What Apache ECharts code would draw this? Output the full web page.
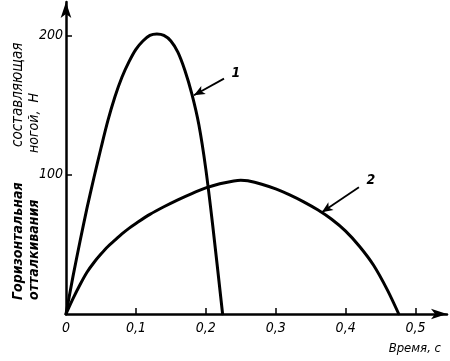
<!DOCTYPE html>
<html><head><meta charset="utf-8">
<script src="https://cdn.jsdelivr.net/npm/echarts@6/dist/echarts.min.js"></script>
<style>html,body{margin:0;padding:0;background:#fff}#c{width:450px;height:361px}</style>
</head><body><div id="c"></div>
<script>
const xTicks = [0, 0.1, 0.2, 0.3, 0.4, 0.5];
const yTicks = [100, 200];
const curve1T = [0, 0.01, 0.02, 0.03, 0.04, 0.05, 0.06, 0.07, 0.08, 0.09, 0.10, 0.11, 0.12, 0.13, 0.14, 0.15, 0.16, 0.17, 0.18, 0.19, 0.20, 0.21, 0.224];
const curve1V = [0, 27, 52, 76, 98, 119, 139, 156, 170, 181, 190, 196, 200, 201, 200, 196, 188, 175, 158, 136, 104, 63, 0];
const curve2T = [0, 0.01, 0.02, 0.03, 0.04, 0.05, 0.06, 0.07, 0.08, 0.09, 0.10, 0.12, 0.14, 0.16, 0.18, 0.20, 0.22, 0.24, 0.25, 0.26, 0.28, 0.30, 0.32, 0.34, 0.36, 0.38, 0.40, 0.42, 0.44, 0.46, 0.476];
const curve2V = [0, 11, 21, 30, 37, 43, 48.5, 53, 57.5, 61.5, 65, 71.5, 77, 82, 86.5, 90.5, 93.5, 95.5, 96, 95.6, 93.2, 89.8, 85.5, 80.5, 74.8, 68, 59.5, 48.5, 35, 17, 0];
const seriesNames = ['1', '2'];
const arrow1 = [[0.226, 169], [0.183, 157]];
const label1 = [0.243, 173];
const arrow2 = [[0.419, 91], [0.366, 73]];
const label2 = [0.436, 96];

const FONT = "'DejaVu Sans Condensed', 'DejaVu Sans', sans-serif";
const fmt = v => String(Math.round(v * 10) / 10).replace('.', ',');
const zip = (a, b) => a.map((t, i) => [t, b[i]]);

function mk(name, t, v, arrow, lab) {
  return {
    name, type: 'line', data: zip(t, v), showSymbol: false, smooth: 0.3,
    lineStyle: { color: '#000', width: 3, cap: 'round', join: 'round' },
    silent: true, z: 3,
    markLine: {
      silent: true, symbol: ['none', 'arrow'], symbolSize: [7, 11],
      lineStyle: { color: '#000', width: 1.8, type: 'solid' },
      label: { show: false },
      data: [[{ coord: arrow[0] }, { coord: arrow[1] }]]
    },
    markPoint: {
      silent: true, symbol: 'circle', symbolSize: 1,
      itemStyle: { color: 'rgba(0,0,0,0)' },
      label: { show: true, position: 'inside', formatter: name, color: '#000', fontSize: 14, fontStyle: 'italic', fontWeight: 'bold', fontFamily: FONT },
      data: [{ coord: lab }]
    }
  };
}

const chart = echarts.init(document.getElementById('c'), null, { renderer: 'canvas' });
chart.setOption({
  animation: false,
  backgroundColor: '#fff',
  grid: { left: 66, right: 3, top: 2, bottom: 47, containLabel: false, outerBoundsMode: 'none' },
  xAxis: {
    type: 'value', min: 0, max: 0.545, interval: 0.1,
    splitLine: { show: false },
    axisLine: { show: true, lineStyle: { color: '#000', width: 2.5 }, symbol: ['none', 'arrow'], symbolSize: [8, 16] },
    axisTick: { show: true, inside: true, length: 6, lineStyle: { color: '#000', width: 1.5 }, customValues: xTicks.slice(1) },
    axisLabel: { show: true, customValues: xTicks, formatter: fmt, color: '#000', fontSize: 14, fontStyle: 'italic', fontFamily: FONT, margin: 7 },
    name: 'Время, с', nameLocation: 'end', nameGap: 0,
    nameTextStyle: { color: '#000', fontSize: 13, fontStyle: 'italic', fontFamily: FONT, align: 'right', verticalAlign: 'top', padding: [28, 6, 0, 0] }
  },
  yAxis: {
    type: 'value', min: 0, max: 224, interval: 100,
    splitLine: { show: false },
    axisLine: { show: true, lineStyle: { color: '#000', width: 2.5 }, symbol: ['none', 'arrow'], symbolSize: [8, 16] },
    axisTick: { show: true, inside: true, length: 6, lineStyle: { color: '#000', width: 1.5 }, customValues: yTicks },
    axisLabel: { show: true, customValues: yTicks, color: '#000', fontSize: 14, fontStyle: 'italic', fontFamily: FONT, margin: 3 }
  },
  graphic: [
    { type: 'text', x: 18, y: 300, rotation: Math.PI / 2, style: { text: 'Горизонтальная', fill: '#000', font: 'italic bold 14px ' + FONT, align: 'left', verticalAlign: 'middle' } },
    { type: 'text', x: 18, y: 147, rotation: Math.PI / 2, style: { text: 'составляющая', fill: '#000', font: 'italic 15px ' + FONT, align: 'left', verticalAlign: 'middle' } },
    { type: 'text', x: 34, y: 300, rotation: Math.PI / 2, style: { text: 'отталкивания', fill: '#000', font: 'italic bold 14px ' + FONT, align: 'left', verticalAlign: 'middle' } },
    { type: 'text', x: 34, y: 153, rotation: Math.PI / 2, style: { text: 'ногой,  Н', fill: '#000', font: 'italic 14px ' + FONT, align: 'left', verticalAlign: 'middle' } }
  ],
  series: [
    mk(seriesNames[0], curve1T, curve1V, arrow1, label1),
    mk(seriesNames[1], curve2T, curve2V, arrow2, label2)
  ]
});
</script>
</body></html>
